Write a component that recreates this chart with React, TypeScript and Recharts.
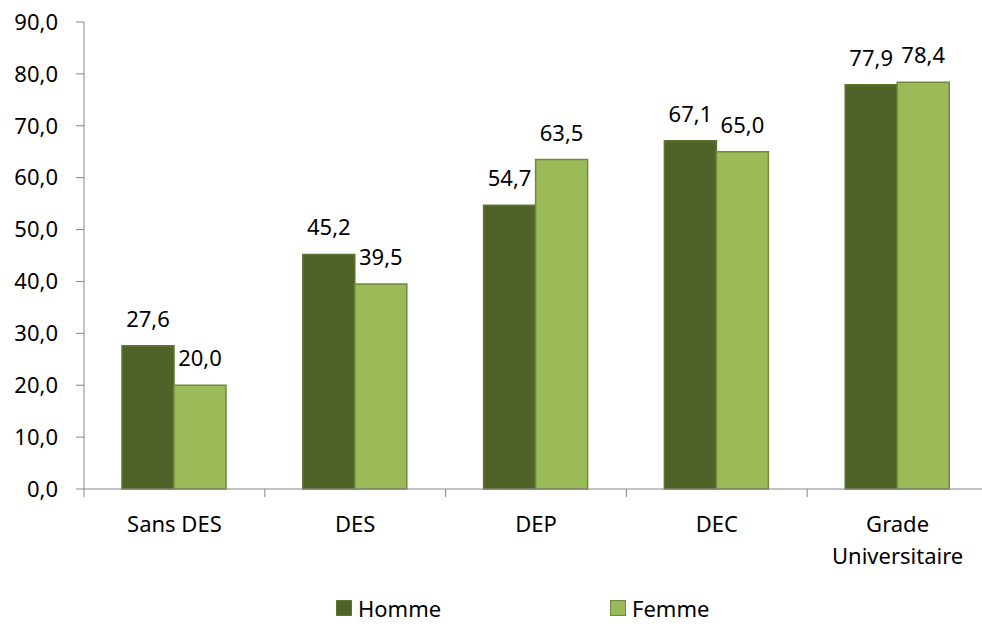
import { Bar, BarChart, LabelList, Legend, XAxis, YAxis } from 'recharts';

const categories = ['Sans DES', 'DES', 'DEP', 'DEC', 'Grade Universitaire'];
const homme = [27.6, 45.2, 54.7, 67.1, 77.9];
const femme = [20.0, 39.5, 63.5, 65.0, 78.4];
const yTicks = [0, 10, 20, 30, 40, 50, 60, 70, 80, 90];

const data = categories.map((name, i) => ({ name, homme: homme[i], femme: femme[i] }));

const FONT = '"Noto Sans", sans-serif';
const fmt = (v: number) => v.toFixed(1).replace('.', ',');

const CategoryTick = (props: any) => {
  const { x, y, payload, index, visibleTicksCount, width } = props;
  const band = (width || 904) / (visibleTicksCount || 5);
  const axisY = y - 10;
  const words = String(payload.value).split(' ');
  const lines = payload.value === 'Grade Universitaire' ? words : [payload.value];
  return (
    <g>
      <line x1={x - band / 2} x2={x - band / 2} y1={axisY} y2={axisY + 8} stroke="#868686" />
      {index === (visibleTicksCount || 5) - 1 && (
        <line x1={x + band / 2} x2={x + band / 2} y1={axisY} y2={axisY + 8} stroke="#868686" />
      )}
      <text x={x} y={y + 33} textAnchor="middle" fontSize={22} fontFamily={FONT} fill="#000">
        {lines.map((l: string, i: number) => (
          <tspan key={i} x={x} dy={i === 0 ? 0 : 32}>
            {l}
          </tspan>
        ))}
      </text>
    </g>
  );
};

const LegendContent = () => (
  <div style={{ height: 30, display: 'flex', alignItems: 'center', fontFamily: FONT, fontSize: 22 }}>
    <div style={{ marginLeft: 336, width: 274, display: 'flex', alignItems: 'center' }}>
      <span style={{ width: 14, height: 14, background: '#4F6228', border: '1px solid #5E7530', marginRight: 6 }} />
      Homme
    </div>
    <div style={{ display: 'flex', alignItems: 'center' }}>
      <span style={{ width: 14, height: 14, background: '#9BBB59', border: '1px solid #71893F', marginRight: 6 }} />
      Femme
    </div>
  </div>
);

export default function App() {
  return (
    <div style={{ position: 'absolute', left: 0, top: 0, width: 982, height: 626, overflow: 'hidden', background: '#fff' }}>
      <BarChart
        width={1000}
        height={626}
        data={data}
        margin={{ top: 22, right: 12, left: 0, bottom: 3 }}
        barGap={0}
      >
        <XAxis
          dataKey="name"
          height={104}
          stroke="#868686"
          tickLine={false}
          tickSize={0}
          tickMargin={10}
          tick={<CategoryTick />}
          interval={0}
        />
        <YAxis
          width={84}
          domain={[0, 90]}
          ticks={yTicks}
          interval={0}
          stroke="#868686"
          tickSize={8}
          tickMargin={18}
          tickFormatter={fmt}
          tick={{ fill: '#000', fontSize: 22, fontFamily: FONT }}
        />
        <Legend verticalAlign="bottom" content={<LegendContent />} />
        <Bar dataKey="homme" name="Homme" fill="#4F6228" stroke="#5E7530" strokeWidth={1.5} barSize={52} isAnimationActive={false}>
          <LabelList dataKey="homme" position="top" offset={19} formatter={(v: any) => fmt(Number(v))} style={{ fill: '#000', fontSize: 22, fontFamily: FONT }} />
        </Bar>
        <Bar dataKey="femme" name="Femme" fill="#9BBB59" stroke="#71893F" strokeWidth={1.5} barSize={52} isAnimationActive={false}>
          <LabelList dataKey="femme" position="top" offset={19} formatter={(v: any) => fmt(Number(v))} style={{ fill: '#000', fontSize: 22, fontFamily: FONT }} />
        </Bar>
      </BarChart>
    </div>
  );
}
